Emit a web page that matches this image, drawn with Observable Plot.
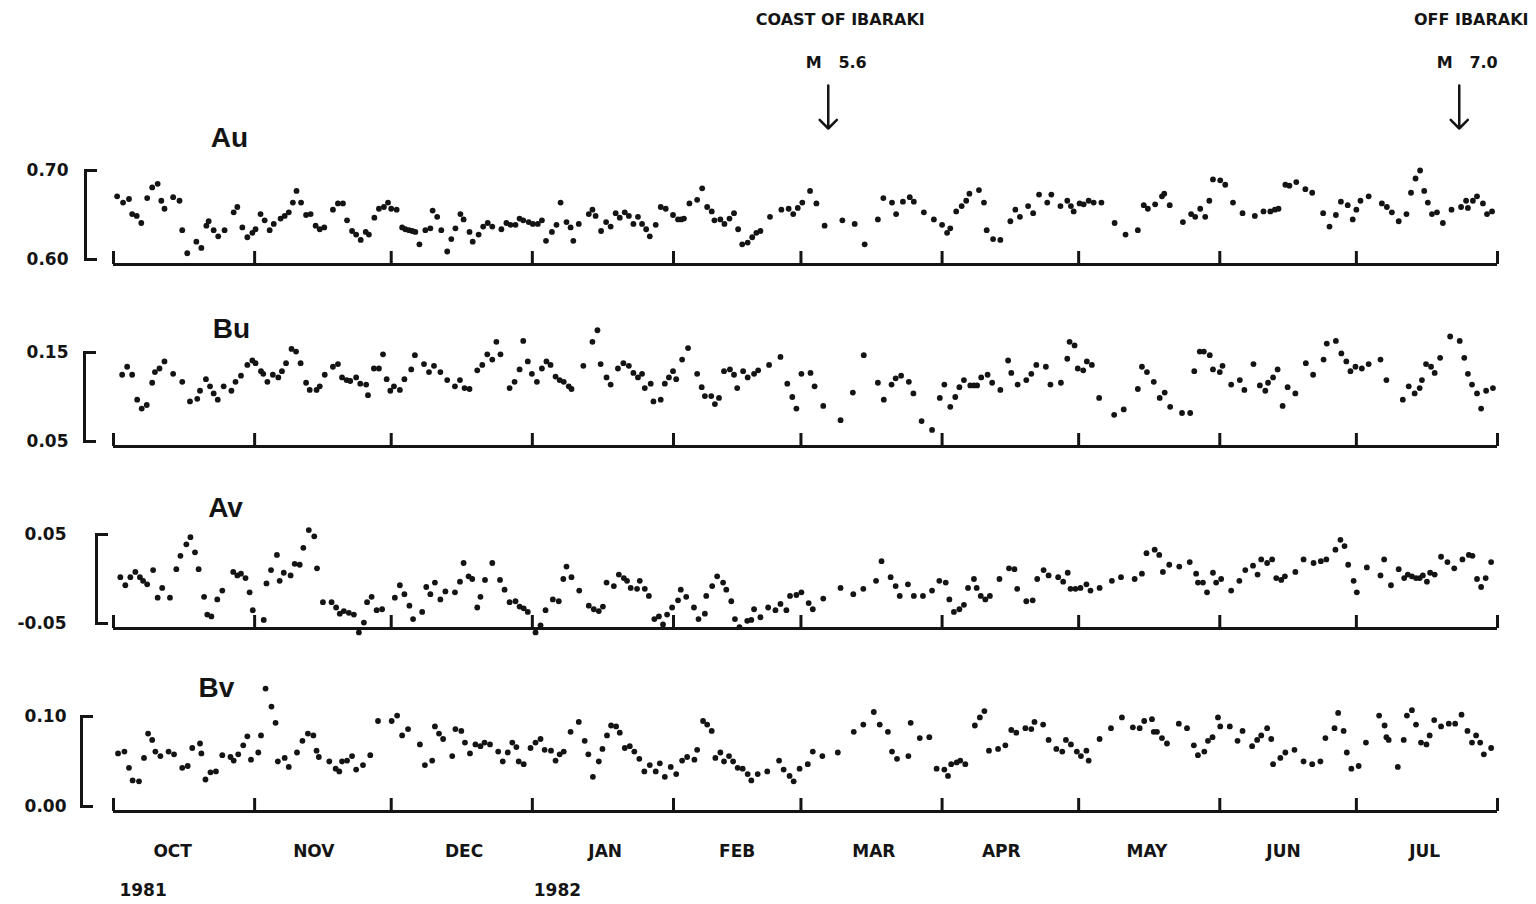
<!DOCTYPE html>
<html>
<head>
<meta charset="utf-8">
<script src="https://cdn.jsdelivr.net/npm/d3@7"></script>
<script src="https://cdn.jsdelivr.net/npm/@observablehq/plot@0.6"></script>
<style>
html, body { margin: 0; padding: 0; background: #ffffff; }
#chart { position: relative; width: 1536px; height: 904px; overflow: hidden; background: #ffffff; }
#chart svg { position: absolute; left: 0; }
</style>
</head>
<body>
<div id="chart"></div>
<script>
// ---- data: [day since 1981-10-01, value] ----
const au = [[0.3,.671],[1.6,.664],[2.9,.668],[3.6,.651],[4.6,.649],[5.6,.641],[6.9,.669],[8.0,.681],[9.2,.685],[10.0,.666],[10.7,.657],[12.6,.670],[14.0,.666],[14.6,.633],[15.7,.607],[17.7,.620],[18.8,.613],[19.9,.638],[20.4,.643],[21.5,.633],[22.5,.626],[23.9,.633],[25.9,.653],[26.7,.659],[27.8,.636],[28.9,.625],[30.0,.630],[30.7,.634],[31.8,.651],[32.7,.644],[33.8,.633],[34.7,.640],[36.2,.646],[37.1,.649],[38.0,.653],[38.9,.664],[39.7,.677],[40.7,.664],[41.8,.650],[42.8,.651],[43.9,.638],[44.8,.634],[45.8,.636],[47.7,.656],[48.8,.663],[49.9,.663],[50.8,.644],[51.9,.632],[52.8,.628],[53.8,.622],[54.9,.631],[55.6,.628],[56.8,.647],[57.8,.657],[58.9,.659],[59.8,.664],[60.5,.657],[61.7,.656],[62.9,.636],[63.6,.634],[64.4,.633],[65.1,.632],[65.8,.631],[66.7,.617],[68.0,.633],[69.1,.635],[69.6,.655],[70.6,.648],[71.5,.633],[72.8,.609],[73.7,.623],[74.6,.635],[75.7,.651],[76.4,.645],[77.7,.631],[78.4,.620],[79.7,.628],[80.7,.637],[81.7,.641],[82.7,.637],[84.7,.634],[85.8,.641],[86.7,.639],[87.8,.639],[88.7,.646],[89.5,.644],[90.7,.642],[91.6,.640],[92.7,.640],[93.6,.644],[94.5,.621],[95.8,.631],[96.8,.639],[97.7,.664],[99.0,.642],[99.9,.636],[100.5,.621],[101.7,.640],
[103.9,.651],[104.7,.656],[105.4,.649],[106.6,.632],[107.7,.642],[108.7,.637],[109.8,.652],[110.7,.647],[111.8,.653],[112.7,.649],[113.7,.640],[114.7,.648],[115.6,.640],[116.5,.634],[117.3,.626],[118.6,.639],[119.7,.659],[120.8,.657],[122.4,.650],[123.5,.645],[124.2,.645],[124.8,.646],[126.0,.663],[127.7,.667],[128.8,.680],[129.9,.659],[130.9,.654],[131.5,.644],[132.8,.645],[133.7,.640],[134.8,.646],[135.8,.652],[136.7,.634],[137.6,.617],[138.8,.619],[139.8,.625],[140.7,.630],[141.6,.632],[143.7,.648],[146.2,.656],[147.8,.657],[148.8,.651],[149.8,.658],[150.8,.664],[152.5,.677],[153.9,.663],[155.7,.638],[159.6,.644],[162.3,.640],[164.5,.617],[167.4,.645],[168.6,.669],[170.5,.664],[171.4,.651],[172.9,.665],[174.4,.670],[175.3,.665],[177.5,.653],[179.7,.645],[181.5,.639],[182.6,.630],[183.3,.635],[184.6,.654],[185.8,.660],[186.8,.666],[187.5,.674],[189.6,.678],[190.7,.664],[191.3,.633],[192.7,.623],[194.3,.622],[196.5,.643],[197.6,.656],[198.6,.648],[200.4,.660],[201.5,.652],[202.8,.673],
[204.6,.664],[205.5,.673],[207.5,.660],[209.0,.666],[209.8,.660],[210.4,.654],[211.7,.663],[212.6,.662],[213.7,.666],[214.8,.664],[216.5,.664],[219.4,.641],[221.8,.628],[224.5,.633],[225.8,.661],[226.7,.657],[228.3,.662],[229.8,.671],[230.3,.674],[231.5,.661],[234.4,.642],[236.2,.651],[237.1,.648],[238.2,.657],[239.3,.648],[240.2,.666],[241.0,.690],[242.6,.689],[243.7,.684],[245.4,.664],[247.5,.652],[250.2,.649],[252.1,.654],[253.6,.654],[254.6,.656],[255.4,.657],[256.9,.684],[257.8,.683],[259.3,.687],[261.3,.679],[262.8,.675],[265.2,.652],[266.6,.637],[268.0,.650],[269.1,.665],[270.6,.661],[271.7,.645],[272.5,.656],[273.4,.666],[275.2,.671],[278.1,.663],[279.2,.659],[280.3,.653],[281.8,.643],[283.5,.651],[284.5,.675],[285.5,.691],[286.5,.700],[287.4,.677],[288.2,.664],[289.1,.651],[290.2,.653],[291.5,.641],[293.4,.656],[295.5,.659],[296.6,.666],[297.0,.658],[298.1,.666],[299.0,.671],[300.3,.663],[301.2,.651],[302.3,.654]];

const bu = [[1.4,.125],[2.5,.134],[3.6,.125],[4.7,.097],[5.7,.087],[6.8,.091],[8.0,.116],[8.6,.128],[9.6,.132],[10.7,.140],[12.6,.126],[14.6,.117],[16.3,.095],[17.9,.098],[18.5,.107],[19.8,.120],[20.7,.112],[21.5,.104],[22.4,.097],[23.7,.112],[25.4,.107],[26.3,.117],[27.5,.124],[28.9,.136],[30.0,.141],[30.7,.138],[31.9,.129],[32.4,.126],[33.3,.117],[34.5,.125],[35.7,.122],[36.5,.129],[37.4,.138],[38.6,.154],[39.6,.151],[40.6,.138],[41.8,.116],[42.6,.108],[44.1,.108],[44.8,.112],[45.9,.125],[47.7,.134],[48.8,.137],[49.7,.122],[50.7,.119],[51.5,.118],[52.8,.122],[53.7,.115],[55.0,.114],[55.4,.102],[56.7,.132],[57.8,.132],[58.7,.148],[59.5,.120],[60.3,.107],[61.1,.112],[62.4,.108],[63.4,.120],[64.9,.131],[65.7,.147],[67.7,.137],[68.8,.128],[69.9,.135],[71.3,.128],[72.8,.119],[74.5,.112],[75.6,.119],[76.6,.110],[77.7,.109],[79.4,.130],[80.5,.136],[81.6,.148],[82.7,.142],[83.6,.162],[84.5,.148],[86.5,.110],[87.6,.117],[88.7,.131],[89.5,.163],[90.5,.140],[91.4,.126],[92.5,.117],[93.6,.132],[94.6,.140],[95.5,.136],[96.6,.123],[97.5,.119],[98.4,.117],[99.5,.112],[100.1,.109],
[102.7,.135],[104.7,.162],[105.8,.175],[106.5,.137],[107.8,.122],[108.7,.114],[110.3,.132],[111.5,.138],[112.7,.135],[113.7,.127],[114.7,.122],[115.6,.126],[116.2,.110],[117.5,.115],[118.1,.095],[119.7,.097],[120.6,.115],[121.5,.122],[122.4,.129],[123.1,.120],[124.4,.142],[125.7,.155],[127.7,.126],[128.7,.111],[129.4,.101],[130.8,.101],[131.6,.092],[132.5,.099],[133.6,.129],[134.9,.131],[135.8,.125],[136.5,.110],[137.8,.129],[138.8,.122],[140.2,.126],[141.1,.130],[143.5,.136],[146.0,.145],[147.5,.115],[148.6,.100],[149.5,.087],[150.6,.126],[152.6,.127],[153.5,.112],[155.4,.090],[159.2,.074],[161.9,.105],[164.3,.147],[167.4,.116],[168.7,.097],[170.4,.114],[171.3,.121],[172.5,.124],[174.2,.117],[175.2,.104],[177.0,.073],[179.3,.063],[181.0,.099],[182.0,.114],[183.3,.089],[184.4,.100],[185.3,.111],[186.3,.119],[187.7,.113],[188.5,.113],[189.2,.113],[190.1,.122],[191.5,.125],[192.5,.116],[194.3,.108],[196.0,.141],[196.7,.127],[198.1,.114],[200.0,.119],[201.1,.126],[202.2,.136],
[204.3,.134],[205.3,.114],[207.6,.116],[209.0,.143],[209.5,.162],[210.6,.158],[211.3,.132],[212.5,.130],[213.3,.140],[214.4,.136],[216.0,.099],[219.3,.080],[221.4,.086],[224.5,.109],[225.4,.134],[226.5,.128],[228.0,.117],[229.3,.099],[230.4,.105],[231.6,.089],[234.2,.082],[236.0,.082],[236.9,.129],[238.1,.151],[239.0,.151],[240.3,.147],[241.0,.131],[242.5,.128],[243.1,.135],[245.0,.114],[246.9,.119],[247.9,.108],[249.9,.137],[251.3,.113],[252.5,.107],[253.1,.116],[254.2,.122],[255.2,.131],[256.3,.090],[257.4,.111],[259.1,.104],[261.4,.138],[263.0,.125],[265.3,.142],[266.0,.160],[268.0,.163],[269.2,.149],[270.3,.140],[271.2,.129],[272.3,.134],[273.7,.132],[275.2,.137],[277.8,.142],[279.1,.119],[282.7,.097],[284.0,.112],[285.3,.104],[286.4,.110],[286.9,.119],[287.8,.137],[288.9,.134],[289.7,.127],[290.9,.144],[293.1,.168],[295.2,.163],[296.2,.144],[297.0,.126],[297.9,.114],[299.0,.104],[299.9,.087],[301.0,.107],[302.5,.110]];

const av = [[1.0,.002],[2.1,-.007],[3.2,.002],[4.3,.008],[5.3,.002],[6.0,-.002],[6.9,-.006],[8.2,.010],[9.2,-.021],[10.2,-.010],[11.9,-.021],[13.3,.011],[14.2,.026],[15.5,.039],[16.4,.047],[17.4,.030],[18.2,.011],[19.4,-.020],[20.1,-.040],[21.0,-.042],[22.3,-.023],[23.4,-.013],[25.8,.008],[26.7,.004],[27.5,.006],[28.5,.001],[29.4,-.015],[30.1,-.035],[32.5,-.046],[33.1,-.005],[34.1,.010],[35.4,.027],[36.0,-.002],[36.9,.007],[38.4,.004],[39.3,.017],[40.4,.016],[41.2,.035],[42.4,.055],[43.6,.048],[44.2,.012],[45.5,-.026],[47.4,-.026],[48.4,-.032],[49.2,-.039],[50.1,-.036],[51.2,-.038],[52.3,-.040],[53.4,-.060],[54.5,-.049],[55.2,-.026],[56.2,-.020],[57.3,-.035],[58.5,-.034],[61.3,-.021],[62.4,-.007],[63.4,-.017],[64.5,-.030],[65.3,-.045],[67.3,-.037],[68.2,-.009],[69.1,-.017],[70.1,-.004],[71.3,-.023],[72.4,-.014],[74.5,-.015],[75.6,-.003],[76.4,.018],[77.5,.003],[78.3,.000],[79.4,-.032],[80.1,-.020],[81.1,-.001],[82.7,.018],[84.4,-.001],[85.4,-.012],[86.5,-.026],[87.8,-.025],[88.7,-.031],[89.6,-.033],[90.5,-.037],[92.2,-.060],[93.3,-.052],[94.4,-.035],[96.0,-.023],[97.3,-.025],[98.3,.000],[99.0,.014],[100.1,.002],[101.8,-.013],
[103.9,-.030],[105.0,-.034],[106.1,-.036],[107.0,-.031],[107.8,-.004],[109.4,-.008],[110.5,.005],[111.6,.001],[112.3,-.002],[113.1,-.010],[114.5,-.011],[115.1,-.002],[116.2,-.011],[117.1,-.019],[118.3,-.045],[119.3,-.042],[120.2,-.051],[121.1,-.040],[122.2,-.032],[123.5,-.024],[124.1,-.012],[125.3,-.020],[127.0,-.032],[128.0,-.045],[129.4,-.039],[129.7,-.019],[131.0,-.008],[132.1,.003],[133.4,-.004],[134.1,-.012],[135.2,-.025],[136.0,-.045],[137.0,-.054],[138.7,-.047],[139.6,-.046],[140.2,-.034],[141.6,-.043],[143.3,-.032],[144.9,-.035],[146.0,-.028],[147.3,-.035],[148.1,-.019],[149.5,-.018],[150.6,-.015],[152.2,-.027],[153.1,-.034],[155.4,-.022],[159.2,-.010],[162.0,-.017],[164.2,-.011],[167.0,-.002],[168.2,.020],[170.2,.002],[171.3,-.008],[172.2,-.019],[174.0,-.006],[175.3,-.019],[177.3,-.019],[179.3,-.013],[180.9,-.002],[182.3,-.004],[183.1,-.023],[184.1,-.037],[185.3,-.034],[186.3,-.029],[187.2,-.010],[188.5,.000],[189.1,-.010],[190.0,-.019],[191.0,-.023],[192.0,-.019],[194.1,.000],[196.2,.012],[197.4,.011],[198.0,-.011],[200.0,-.025],[201.4,-.024],[202.4,.000],
[203.8,.010],[204.9,.004],[207.0,.002],[208.1,-.003],[209.1,.007],[209.7,-.011],[210.8,-.011],[211.9,-.010],[213.2,-.006],[214.1,-.013],[216.1,-.010],[218.8,-.002],[220.8,.002],[223.8,.000],[225.4,.006],[226.4,.029],[228.2,.033],[229.2,.027],[230.0,.008],[231.4,.016],[233.6,.014],[235.9,.019],[237.3,.006],[237.7,-.004],[238.8,-.004],[239.7,-.015],[241.0,.007],[241.7,-.004],[242.8,.000],[245.0,-.013],[246.8,-.002],[248.1,.010],[249.8,.015],[250.8,.005],[251.6,.022],[252.9,.018],[254.0,.022],[254.9,.001],[256.0,-.001],[256.8,.003],[259.1,.008],[260.9,.022],[263.1,.018],[264.7,.020],[265.9,.022],[267.9,.033],[269.0,.044],[269.9,.037],[270.7,.016],[271.9,-.002],[272.6,-.015],[274.8,.013],[277.8,.004],[278.6,.022],[280.1,-.007],[281.8,.011],[283.0,.001],[283.8,.005],[284.7,.003],[285.6,.001],[286.4,.001],[287.1,.004],[288.0,-.003],[288.7,.007],[289.7,.005],[291.1,.025],[292.5,.019],[294.0,.012],[295.8,.022],[297.2,.027],[298.0,.026],[299.0,.000],[299.9,-.009],[300.9,.001],[302.1,.019]];

const bv = [[0.5,.059],[1.9,.061],[2.9,.043],[3.7,.029],[5.1,.028],[6.2,.054],[7.1,.081],[8.0,.074],[8.7,.061],[9.8,.056],[11.6,.061],[12.8,.058],[14.6,.043],[15.8,.045],[16.8,.065],[18.5,.070],[18.8,.059],[19.7,.030],[20.8,.038],[22.0,.039],[23.4,.057],[25.2,.055],[25.9,.051],[26.9,.058],[28.0,.068],[28.9,.078],[29.7,.052],[31.3,.060],[31.9,.079],[32.9,.131],[34.2,.111],[35.1,.093],[35.6,.050],[37.1,.054],[38.0,.044],[39.8,.060],[41.0,.073],[42.2,.081],[43.4,.079],[44.1,.062],[44.6,.055],[46.9,.050],[48.3,.042],[49.1,.039],[49.7,.050],[50.8,.051],[51.9,.056],[52.8,.041],[54.3,.046],[55.9,.057],[57.6,.095],[60.6,.095],[61.8,.101],[62.9,.079],[64.2,.086],[66.8,.069],[67.9,.046],[69.5,.051],[70.1,.089],[71.0,.081],[71.9,.075],[73.9,.056],[74.6,.086],[75.9,.084],[76.7,.071],[77.8,.059],[79.0,.069],[80.1,.067],[81.0,.071],[82.2,.069],[84.0,.061],[85.0,.050],[86.1,.060],[87.1,.071],[88.0,.066],[88.5,.050],[89.6,.047],[91.1,.065],[92.2,.071],[93.3,.075],[94.2,.063],[95.6,.062],[96.6,.051],[97.5,.058],[98.4,.061],[99.9,.083],[101.7,.094],
[103.0,.073],[103.8,.058],[104.8,.033],[106.1,.050],[106.9,.064],[107.9,.079],[108.8,.090],[109.9,.089],[110.7,.082],[111.8,.065],[112.9,.067],[113.9,.061],[115.0,.053],[116.1,.039],[117.3,.046],[118.6,.039],[119.5,.048],[120.6,.033],[121.9,.044],[123.1,.036],[124.4,.051],[125.5,.055],[127.1,.052],[127.7,.063],[129.0,.095],[129.9,.091],[130.9,.084],[131.7,.054],[132.8,.060],[133.6,.050],[134.7,.056],[135.6,.050],[136.6,.043],[137.7,.042],[138.8,.036],[139.6,.029],[141.0,.036],[143.1,.039],[145.7,.051],[146.7,.041],[148.0,.034],[148.9,.028],[150.2,.042],[152.0,.047],[153.1,.061],[155.2,.056],[158.6,.060],[162.1,.083],[164.2,.091],[166.5,.105],[167.8,.091],[169.6,.083],[170.5,.061],[171.6,.053],[174.1,.056],[174.6,.093],[176.6,.076],[178.7,.077],[180.3,.042],[182.0,.041],[182.8,.034],[183.5,.047],[184.7,.049],[185.5,.051],[186.6,.047],[188.7,.090],[189.8,.099],[190.8,.106],[191.8,.062],[193.8,.064],[195.4,.068],[196.7,.085],[197.8,.082],[199.8,.087],[201.1,.086],[201.8,.094],
[203.7,.091],[204.9,.074],[206.6,.064],[207.9,.061],[208.7,.074],[209.8,.069],[211.1,.061],[212.0,.056],[213.2,.062],[213.7,.051],[216.1,.075],[218.6,.087],[221.0,.099],[223.4,.088],[224.9,.087],[225.9,.095],[227.6,.097],[228.0,.083],[228.7,.083],[229.8,.076],[230.9,.070],[233.5,.092],[235.3,.087],[236.8,.068],[237.7,.057],[239.1,.061],[239.9,.073],[240.9,.077],[242.1,.099],[242.6,.089],[244.7,.089],[246.4,.073],[247.5,.084],[249.6,.067],[250.7,.074],[251.6,.079],[252.9,.087],[253.8,.075],[254.2,.047],[255.8,.054],[256.9,.060],[258.9,.063],[260.9,.050],[262.8,.047],[264.6,.050],[265.7,.076],[267.7,.087],[268.5,.104],[269.7,.084],[270.4,.060],[271.4,.042],[273.0,.045],[274.6,.071],[277.5,.101],[278.7,.090],[279.1,.077],[279.6,.074],[281.6,.044],[282.9,.074],[283.6,.101],[284.7,.107],[285.6,.091],[286.7,.071],[287.9,.069],[288.6,.079],[289.6,.096],[291.1,.089],[292.8,.092],[294.2,.092],[295.6,.102],[296.9,.084],[297.9,.071],[298.8,.079],[299.7,.071],[300.5,.058],[302.1,.065]];

const seriesNames = ["Au", "Bu", "Av", "Bv"];
const yDomains = [[0.60, 0.70], [0.05, 0.15], [-0.05, 0.05], [0.00, 0.10]];
const monthTicks = ["1981-10-01","1981-11-01","1981-12-01","1982-01-01","1982-02-01","1982-03-01","1982-04-01","1982-05-01","1982-06-01","1982-07-01","1982-08-01"];
const monthNames = ["OCT","NOV","DEC","JAN","FEB","MAR","APR","MAY","JUN","JUL"];
const monthNameDates = ["1981-10-14","1981-11-14","1981-12-17","1982-01-17","1982-02-15","1982-03-17","1982-04-14","1982-05-16","1982-06-15","1982-07-16"];
const yearNames = ["1981", "1982"];
const yearDates = ["1981-10-07T12:00:00Z", "1982-01-06T12:00:00Z"];
const quakes = [
  {date: "1982-03-07T00:00:00Z", place: "COAST OF IBARAKI", mag: "M\u00a0\u00a0\u00a05.6"},
  {date: "1982-07-23T14:23:00Z", place: "OFF IBARAKI", mag: "M\u00a0\u00a0\u00a07.0"}
];

// ---- layout ----
const ink = "#141414";
const origin = Date.UTC(1981, 9, 1);
const toDate = (d) => new Date(origin + (d + 0.5) * 864e5);
const xStart = new Date(monthTicks[0]);
const xEnd = new Date(monthTicks[monthTicks.length - 1]);
const tickFont = "DejaVu Sans, Verdana, sans-serif";
const titleFont = "Liberation Sans, Arial, sans-serif";

const layout = [
  {top: 0,   height: 280, mt: 170, mb: 21, ml: 85, pad: 17, ndx: 144, ndy: -32},
  {top: 280, height: 180, mt: 72,  mb: 19, ml: 84, pad: 16, ndx: 147, ndy: -23},
  {top: 460, height: 180, mt: 74,  mb: 17, ml: 96, pad: 30, ndx: 129, ndy: -26},
  {top: 640, height: 264, mt: 76,  mb: 98, ml: 81, pad: 15, ndx: 135, ndy: -28}
];
const allSeries = [au, bu, av, bv];
const chart = document.getElementById("chart");

allSeries.forEach((data, i) => {
  const L = layout[i];
  const dom = yDomains[i];
  const marks = [
    Plot.axisY({ticks: dom, tickSize: -12, strokeWidth: 3, stroke: ink, tickFormat: () => "", label: null}),
    Plot.frame({anchor: "left", stroke: ink, strokeWidth: 3}),
    Plot.axisY({ticks: dom, tickSize: 0, tickPadding: L.pad, tickFormat: (d) => d.toFixed(2), label: null,
      fontSize: 17, fontWeight: "bold", fontFamily: tickFont, fill: ink}),
    Plot.ruleY([{y: dom[0], x1: xStart, x2: xEnd}], {y: "y", x1: "x1", x2: "x2", dy: 5, stroke: ink, strokeWidth: 3}),
    Plot.axisX({ticks: monthTicks.map((d) => new Date(d)), tickSize: -13, dy: 5, strokeWidth: 3, stroke: ink,
      tickFormat: () => "", label: null}),
    Plot.dot(data, {x: (d) => toDate(d[0]), y: (d) => d[1], r: 2.9, fill: ink, stroke: null}),
    Plot.text([seriesNames[i]], {text: (d) => d, frameAnchor: "top-left", dx: L.ndx, dy: L.ndy,
      textAnchor: "middle", lineAnchor: "middle", fontSize: 28, fontWeight: "bold", fontFamily: titleFont, fill: ink})
  ];
  if (i === 0) {
    marks.push(
      Plot.vector(quakes, {x: (d) => new Date(d.date), frameAnchor: "top", dy: -85, length: 43, rotate: 180,
        anchor: "start", stroke: ink, strokeWidth: 2.5}),
      Plot.text(quakes, {x: (d) => new Date(d.date), text: "place", frameAnchor: "top", dy: -151, dx: 12,
        lineAnchor: "middle", fontSize: 16, fontWeight: "bold", fontFamily: tickFont, fill: ink}),
      Plot.text(quakes, {x: (d) => new Date(d.date), text: "mag", frameAnchor: "top", dy: -108, dx: 8,
        lineAnchor: "middle", fontSize: 16, fontWeight: "bold", fontFamily: tickFont, fill: ink})
    );
  }
  if (i === 3) {
    marks.push(
      Plot.text(monthNames, {x: (d, j) => new Date(monthNameDates[j]), text: (d) => d, frameAnchor: "bottom", dy: 45,
        lineAnchor: "middle", fontSize: 17, fontWeight: "bold", fontFamily: tickFont, fill: ink}),
      Plot.text(yearNames, {x: (d, j) => new Date(yearDates[j]), text: (d) => d, frameAnchor: "bottom", dy: 84,
        lineAnchor: "middle", fontSize: 17, fontWeight: "bold", fontFamily: tickFont, fill: ink})
    );
  }
  const svg = Plot.plot({
    width: 1536,
    height: L.height,
    marginTop: L.mt,
    marginBottom: L.mb,
    marginLeft: L.ml,
    marginRight: 39,
    style: {background: "transparent", color: ink, overflow: "visible"},
    x: {type: "utc", domain: [xStart, xEnd], insetLeft: 113 - L.ml, axis: null, label: null},
    y: {domain: dom, axis: null, label: null},
    marks
  });
  svg.style.top = L.top + "px";
  chart.appendChild(svg);
});
</script>
</body>
</html>
